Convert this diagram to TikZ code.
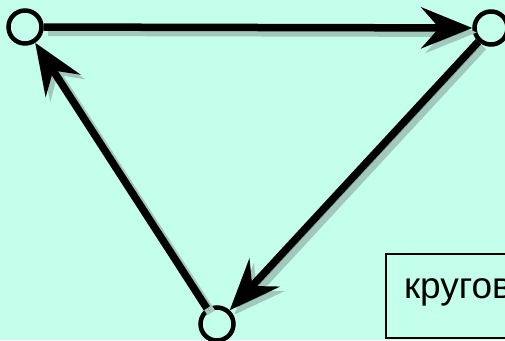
\documentclass[tikz,border=0pt]{standalone}
\usepackage{fontspec}
\setmainfont{Liberation Sans}
\usetikzlibrary{arrows.meta,positioning}
\definecolor{bgmint}{RGB}{196,255,236}
\definecolor{shadegray}{RGB}{118,150,140}
\definecolor{shadelight}{RGB}{160,200,188}

\begin{document}
\begin{tikzpicture}[x=1pt,y=-1pt,
    vert/.style={draw,circle,line width=4.5pt,minimum size=33pt,inner sep=0pt},
    edge/.style={line width=7.5pt,-{Stealth[length=51pt,width=41pt,inset=18pt]},
      preaction={draw=shadelight,line width=9pt,transform canvas={shift={(4.5pt,-4.5pt)}}},
      preaction={draw=shadegray,transform canvas={shift={(3pt,-3pt)}}}}]
    \clip (0,0) rectangle (505,340);
    \fill[bgmint] (0,0) rectangle (505,340);
    % graph
    \node[vert] (a) at (25,27) {};
    \node[vert] (b) at (491,28) {};
    \node[vert] (c) at (217,324) {};
    \draw[edge] (a) -- (b);
    \draw[edge] (b) -- (c);
    \draw[edge] (c) -- (a);
    % label box
    \node[draw,line width=2pt,anchor=north west,minimum height=84pt,text width=170pt,
      inner xsep=18pt,text height=19pt,text depth=15pt,align=left,
      font=\fontsize{37}{40}\selectfont] (lbl) at (385,253) {кругов};
  \end{tikzpicture}
\end{document}
